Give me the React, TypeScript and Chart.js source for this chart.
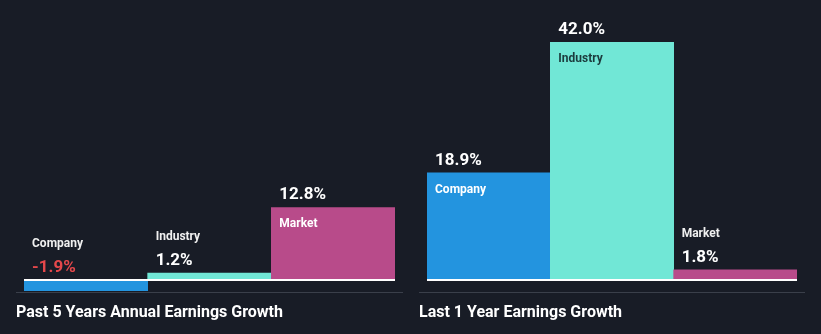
import React, { useEffect, useRef } from "react";
import { Chart, registerables } from "chart.js";

Chart.register(...registerables);

const categories = ["Company", "Industry", "Market"];
const past5Values = [-1.9, 1.2, 12.8];
const last1Values = [18.9, 42.0, 1.8];
const panelTitles = ["Past 5 Years Annual Earnings Growth", "Last 1 Year Earnings Growth"];

const BG = "#181c26";
const barColors = ["#2394df", "#71e7d6", "#b84b8a"];
const insideLabelColors = ["#ffffff", "#1c3b3d", "#ffffff"];
const FONT = "Roboto, 'Open Sans', sans-serif";

function makeOverlay(title: string, sepLeft: number, sepRight: number) {
  return {
    id: "overlay",
    afterDatasetsDraw(chart: any) {
      const ctx = chart.ctx;
      const meta = chart.getDatasetMeta(0);
      const values = chart.data.datasets[0].data as number[];
      const yScale = chart.scales.y;
      const zero = yScale.getPixelForValue(0);
      const area = chart.chartArea;
      ctx.save();
      // baseline
      ctx.strokeStyle = "#ffffff";
      ctx.lineWidth = 2;
      ctx.beginPath();
      ctx.moveTo(area.left, zero);
      ctx.lineTo(area.right, zero);
      ctx.stroke();
      // separator
      ctx.strokeStyle = "#3a3f4a";
      ctx.lineWidth = 1;
      ctx.beginPath();
      ctx.moveTo(sepLeft, 292.5);
      ctx.lineTo(sepRight, 292.5);
      ctx.stroke();
      ctx.textBaseline = "middle";
      ctx.textAlign = "left";
      meta.data.forEach((el: any, i: number) => {
        const v = values[i];
        const left = el.x - el.width / 2;
        const top = v >= 0 ? el.y : zero;
        const height = v >= 0 ? zero - el.y : 0;
        const tx = left + 8;
        const valText = v.toFixed(1) + "%";
        ctx.font = `bold 17px ${FONT}`;
        ctx.fillStyle = v < 0 ? "#e5484b" : "#ffffff";
        ctx.fillText(valText, tx, top - 12.5);
        ctx.font = `bold 12px ${FONT}`;
        if (height > 40) {
          ctx.fillStyle = insideLabelColors[i];
          ctx.fillText(categories[i], tx, top + 17);
        } else {
          ctx.fillStyle = "#f0f0f0";
          ctx.fillText(categories[i], tx, top - 36);
        }
      });
      ctx.font = `bold 16px ${FONT}`;
      ctx.fillStyle = "#ffffff";
      ctx.fillText(title, sepLeft, 313);
      ctx.restore();
    },
  };
}

function Panel(props: {
  values: number[];
  title: string;
  width: number;
  padLeft: number;
  padRight: number;
  sepLeft: number;
  sepRight: number;
}) {
  const ref = useRef<HTMLCanvasElement>(null);
  useEffect(() => {
    if (!ref.current) return;
    const chart = new Chart(ref.current, {
      type: "bar",
      data: {
        labels: categories,
        datasets: [
          {
            data: props.values,
            backgroundColor: barColors,
            borderWidth: 0,
            barPercentage: 1,
            categoryPercentage: 1,
          },
        ],
      },
      options: {
        responsive: false,
        animation: false,
        devicePixelRatio: 1,
        layout: {
          padding: { left: props.padLeft, right: props.padRight, top: 42, bottom: 42 },
        },
        plugins: { legend: { display: false }, tooltip: { enabled: false } },
        scales: {
          x: { display: false, grid: { display: false } },
          y: { display: false, min: -2.12, max: 42, grid: { display: false } },
        },
      },
      plugins: [makeOverlay(props.title, props.sepLeft, props.sepRight)],
    });
    return () => chart.destroy();
  }, []);
  return (
    <canvas
      ref={ref}
      width={props.width}
      height={334}
      style={{ display: "block", width: props.width, height: 334 }}
    />
  );
}

export default function App() {
  return (
    <div
      style={{
        position: "absolute",
        left: 0,
        top: 0,
        width: 821,
        height: 334,
        background: BG,
        display: "flex",
      }}
    >
      <Panel values={past5Values} title={panelTitles[0]} width={410} padLeft={24} padRight={15} sepLeft={16} sepRight={403} />
      <Panel values={last1Values} title={panelTitles[1]} width={411} padLeft={17} padRight={24} sepLeft={9} sepRight={395} />
    </div>
  );
}
